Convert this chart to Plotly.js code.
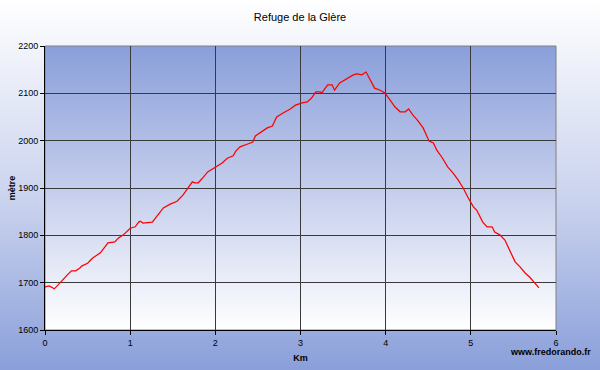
<!DOCTYPE html>
<html>
<head>
<meta charset="utf-8">
<script src="https://cdn.plot.ly/plotly-3.0.1.min.js"></script>
<style>
  html, body { margin: 0; padding: 0; }
  #chart { width: 600px; height: 370px; background: linear-gradient(to bottom, #ffffff 0%, #c9d2ee 55%, #8a9fda 100%); }
</style>
</head>
<body>
<div id="chart"></div>
<script>
const chartTitle = "Refuge de la Glère";
const xTitle = "Km";
const yTitle = "mètre";
const credit = "www.fredorando.fr";

const distanceKm = [0.00,0.05,0.11,0.18,0.21,0.26,0.31,0.36,0.41,0.43,0.50,0.56,0.65,0.70,0.74,0.82,0.86,0.92,1.00,1.06,1.10,1.12,1.15,1.26,1.33,1.39,1.47,1.55,1.62,1.68,1.73,1.76,1.80,1.86,1.91,2.00,2.08,2.14,2.21,2.24,2.29,2.38,2.44,2.47,2.52,2.61,2.67,2.72,2.79,2.88,2.94,3.02,3.08,3.13,3.18,3.23,3.25,3.32,3.37,3.40,3.46,3.50,3.56,3.62,3.66,3.72,3.77,3.82,3.87,3.93,3.99,4.05,4.11,4.17,4.23,4.27,4.32,4.37,4.44,4.51,4.56,4.60,4.66,4.73,4.79,4.85,4.91,4.97,5.03,5.07,5.14,5.19,5.25,5.28,5.34,5.40,5.46,5.52,5.58,5.64,5.69,5.75,5.80];
const altitudeM = [1691,1693,1687,1701,1708,1716,1725,1725,1731,1735,1741,1752,1763,1775,1784,1786,1794,1801,1815,1818,1828,1830,1826,1828,1845,1858,1866,1872,1885,1900,1913,1911,1911,1923,1934,1944,1953,1963,1968,1978,1987,1993,1997,2010,2016,2027,2031,2050,2058,2067,2075,2080,2082,2090,2103,2103,2101,2118,2118,2107,2122,2126,2132,2139,2141,2139,2145,2128,2111,2107,2101,2086,2071,2061,2061,2067,2054,2044,2027,1999,1995,1980,1965,1944,1932,1917,1900,1879,1860,1853,1828,1818,1818,1807,1801,1790,1765,1744,1733,1720,1712,1699,1689];

const xTicks = [0,1,2,3,4,5,6];
const yTicks = [1600,1700,1800,1900,2000,2100,2200];

const plotGrad = 'data:image/svg+xml;utf8,' + encodeURIComponent(
  '<svg xmlns="http://www.w3.org/2000/svg" width="100" height="100" preserveAspectRatio="none">' +
  '<defs><linearGradient id="g" x1="0" y1="0" x2="0" y2="1">' +
  '<stop offset="0" stop-color="#8a9fda"/><stop offset="0.5" stop-color="#c4cdec"/><stop offset="1" stop-color="#ffffff"/>' +
  '</linearGradient></defs><rect width="100" height="100" fill="url(#g)"/></svg>');

const font = "'Liberation Sans', Arial, sans-serif";

const trace = {
  x: distanceKm, y: altitudeM, type: 'scatter', mode: 'lines',
  line: { color: '#ff0000', width: 1.25 }, hoverinfo: 'skip'
};

const layout = {
  width: 600, height: 370,
  margin: { l: 45, r: 44, t: 46, b: 40 },
  paper_bgcolor: 'rgba(0,0,0,0)',
  plot_bgcolor: 'rgba(0,0,0,0)',
  showlegend: false,
  font: { family: font, size: 9, color: '#000' },
  title: { text: chartTitle, font: { family: font, size: 11, color: '#000' }, x: 0.5, xref: 'container', y: 0.954, yref: 'container', yanchor: 'middle' },
  xaxis: {
    range: [0, 6], tickvals: xTicks, ticktext: xTicks.map(String),
    showgrid: true, gridcolor: '#3a3a3a', gridwidth: 1,
    showline: true, linecolor: '#000', linewidth: 1, mirror: false,
    ticks: 'outside', ticklen: 4, tickcolor: '#000',
    zeroline: false, tickfont: { family: font, size: 9, color: '#000' },
    title: { text: '<b>' + xTitle + '</b>', font: { family: font, size: 9, color: '#000' }, standoff: 7 }
  },
  yaxis: {
    range: [1600, 2200], tickvals: yTicks, ticktext: yTicks.map(String),
    showgrid: true, gridcolor: '#3a3a3a', gridwidth: 1,
    showline: true, linecolor: '#000', linewidth: 1,
    ticks: 'outside', ticklen: 4, tickcolor: '#000',
    zeroline: false, tickfont: { family: font, size: 9, color: '#000' },
    title: { text: '<b>' + yTitle + '</b>', font: { family: font, size: 9, color: '#000' }, standoff: 1 }
  },
  images: [{
    source: plotGrad, xref: 'paper', yref: 'paper', x: 0, y: 1, sizex: 1, sizey: 1,
    sizing: 'stretch', xanchor: 'left', yanchor: 'top', layer: 'below'
  }],
  shapes: [{
    type: 'rect', xref: 'paper', yref: 'paper', x0: 0, x1: 1, y0: 0, y1: 1,
    line: { color: '#808080', width: 1 }, fillcolor: 'rgba(0,0,0,0)', layer: 'below'
  }],
  annotations: [{
    text: '<b>' + credit + '</b>', xref: 'paper', yref: 'paper',
    x: 1.072, y: -0.077, xanchor: 'right', yanchor: 'middle', showarrow: false,
    font: { family: font, size: 9, color: '#000' }
  }]
};

Plotly.newPlot('chart', [trace], layout, { displayModeBar: false, staticPlot: true });
</script>
</body>
</html>
